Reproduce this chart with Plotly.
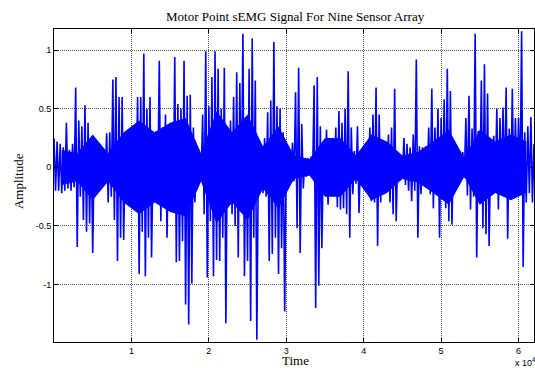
import plotly.graph_objects as go

# Per-column extremes of the sEMG trace (column step = 400 samples)
hi = [0.25, 0.22, 0.20, 0.17, 0.38, 0.15, 0.20, 0.68, 0.40, 0.35,
      0.53, 0.38, 0.25, 0.15, 0.12, 0.13, 0.15, 0.29, 0.30, 0.75,
      0.77, 0.60, 0.60, 0.15, 0.14, 0.14, 0.32, 0.60, 0.60, 0.97,
      0.50, 0.60, 0.11, 0.31, 0.91, 0.34, 0.45, 0.20, 0.37, 0.94,
      0.54, 0.50, 0.91, 0.61, 0.62, 0.34, 0.06, 0.10, 0.45, 0.99,
      0.52, 0.77, 0.99, 0.84, 0.50, 0.85, 0.30, 0.40, 0.60, 0.81,
      0.72, 1.14, 0.28, 0.84, 1.10, 0.74, 0.10, 0.12, 0.25, 0.47,
      0.57, 1.07, 0.52, 0.50, 0.30, 0.12, 0.13, 0.21, 0.64, 0.85,
      0.37, 0.07, 0.08, 0.09, 0.70, 0.77, 0.35, 0.15, 0.32, 0.20,
      0.07, 0.34, 0.48, 0.38, 0.50, 0.82, 0.34, 0.14, 0.35, 0.12,
      0.14, 0.14, 0.34, 0.45, 0.68, 0.45, 0.23, 0.11, 0.28, 0.34,
      0.67, 0.11, 0.11, 0.25, 0.20, 0.17, 0.28, 0.92, 0.18, 0.17,
      0.18, 0.34, 0.67, 0.34, 0.50, 0.42, 0.58, 0.84, 0.65, 0.14,
      0.14, 0.14, 0.13, 0.42, 0.61, 0.33, 1.14, 0.31, 0.74, 0.88,
      0.63, 0.11, 0.27, 0.50, 0.42, 0.51, 0.68, 0.33, 0.67, 0.42,
      0.42, 1.16, 0.30, 0.35, 0.43, 0.20]

lo = [-0.20, -0.20, -0.22, -0.20, -0.18, -0.20, -0.17, -0.68, -0.25, -0.45,
      -0.55, -0.48, -0.73, -0.20, -0.13, -0.10, -0.12, -0.30, -0.25, -0.45,
      -0.80, -0.60, -0.62, -0.12, -0.13, -0.12, -0.20, -0.91, -0.55, -0.93,
      -0.60, -0.77, -0.10, -0.20, -0.46, -0.25, -0.60, -0.12, -0.35, -0.81,
      -0.80, -0.63, -1.17, -1.34, -0.99, -0.30, -0.07, -0.10, -0.40, -0.94,
      -0.46, -0.93, -0.79, -0.80, -0.60, -1.33, -0.20, -0.40, -0.50, -0.77,
      -0.30, -0.93, -0.80, -1.31, -0.60, -1.47, -0.12, -0.22, -0.25, -0.80,
      -0.74, -0.60, -0.91, -0.69, -1.23, -0.15, -0.12, -0.12, -0.52, -0.73,
      -0.18, -0.08, -0.07, -0.09, -1.20, -1.01, -0.69, -0.15, -0.32, -0.20,
      -0.09, -0.34, -0.36, -0.35, -0.40, -0.60, -0.23, -0.14, -0.39, -0.13,
      -0.14, -0.17, -0.29, -0.30, -0.67, -0.30, -0.23, -0.12, -0.30, -0.40,
      -0.46, -0.06, -0.09, -0.15, -0.20, -0.29, -0.20, -0.60, -0.23, -0.15,
      -0.12, -0.23, -0.35, -0.15, -0.60, -0.18, -0.35, -0.46, -0.49, -0.10,
      -0.07, -0.08, -0.09, -0.24, -0.36, -0.25, -0.77, -0.24, -0.52, -0.57,
      -0.67, -0.12, -0.12, -0.36, -0.15, -0.20, -0.61, -0.23, -0.26, -0.18,
      -0.20, -0.85, -0.30, -0.22, -0.30, -0.15]

# Half-width of the solid dense core, at the centre of each 2000-sample segment
core = [0.15, 0.12, 0.28, 0.12, 0.30, 0.40, 0.30, 0.38, 0.42, 0.12,
        0.48, 0.30, 0.45, 0.18, 0.35, 0.10, 0.07, 0.25, 0.25, 0.10,
        0.28, 0.22, 0.10, 0.13, 0.22, 0.32, 0.08, 0.32, 0.22, 0.28,
        0.22]

step = 400
core_step = 2000
x_ticks = [10000, 20000, 30000, 40000, 50000, 60000]
x_labels = ["1", "2", "3", "4", "5", "6"]
y_ticks = [-1, -0.5, 0, 0.5, 1]
y_labels = ["-1", "-0.5", "0", "0.5", "1"]

xs, ys = [], []
for i, (h, l) in enumerate(zip(hi, lo)):
    xs += [i * step, i * step + step / 2]
    ys += [h, l]

cx = [k * core_step + core_step / 2 for k in range(len(core))]
band_x = cx + cx[::-1]
band_y = core + [-v for v in core[::-1]]

fig = go.Figure()
fig.add_trace(go.Scatter(x=band_x, y=band_y, mode="lines", fill="toself",
                         fillcolor="#0000FF", line=dict(color="#0000FF", width=0),
                         showlegend=False, hoverinfo="skip"))
fig.add_trace(go.Scatter(x=xs, y=ys, mode="lines",
                         line=dict(color="#0000FF", width=1.6),
                         showlegend=False, hoverinfo="skip"))

axis_common = dict(showline=True, linecolor="black", linewidth=1, mirror="allticks",
                   ticks="inside", ticklen=4, tickcolor="black",
                   showgrid=True, gridcolor="#555555", griddash="1px,1px", gridwidth=1,
                   zeroline=False,
                   tickfont=dict(family="Liberation Sans, Arial", size=9, color="black"))

fig.update_xaxes(range=[0, 62000], tickmode="array", tickvals=x_ticks, ticktext=x_labels,
                 **axis_common)
fig.update_yaxes(range=[-1.49, 1.18], tickmode="array", tickvals=y_ticks, ticktext=y_labels,
                 **axis_common)

serif = "Liberation Serif, Times New Roman, serif"
fig.update_layout(
    width=535, height=368,
    margin=dict(l=54, r=1, t=29, b=26),
    plot_bgcolor="white", paper_bgcolor="white",
    annotations=[
        dict(text="Motor Point sEMG Signal For Nine Sensor Array", xref="paper", yref="paper",
             x=0.504, y=1.0415, xanchor="center", yanchor="middle", showarrow=False,
             font=dict(family=serif, size=13, color="black")),
        dict(text="Time", xref="paper", yref="paper", x=0.503, y=-0.059,
             xanchor="center", yanchor="middle", showarrow=False,
             font=dict(family=serif, size=13, color="black")),
        dict(text="Amplitude", xref="paper", yref="paper", x=-0.075, y=0.514,
             xanchor="center", yanchor="middle", textangle=-90, showarrow=False,
             font=dict(family=serif, size=13, color="black")),
        dict(text="x 10<sup>4</sup>", xref="paper", yref="paper", x=0.956, y=-0.064,
             xanchor="left", yanchor="middle", showarrow=False,
             font=dict(family="Liberation Sans, Arial", size=9, color="black")),
    ],
)

fig.write_html("out.html")
